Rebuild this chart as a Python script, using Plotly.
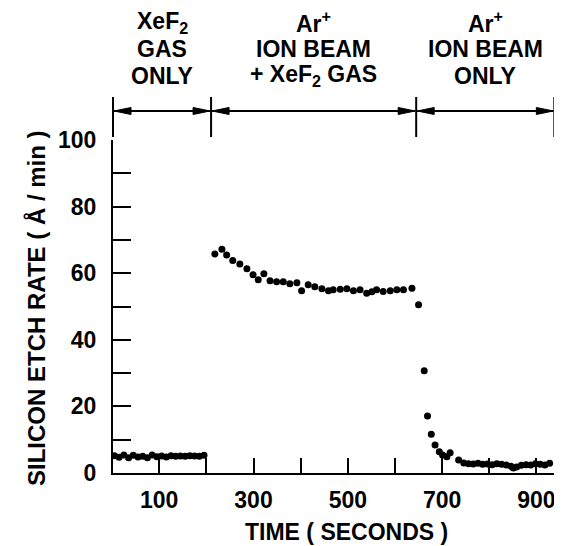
import plotly.graph_objects as go

# ---------------- data ----------------
gas_time = [5, 15, 25, 35, 45, 55, 65, 75, 85, 95, 105, 115, 125, 135, 145, 155, 165, 175, 185, 195]
gas_rate = [5.2, 4.7, 5.4, 4.6, 5.3, 4.8, 5.0, 4.6, 5.4, 4.9, 5.1, 4.8, 5.2, 5.0, 5.1, 5.0, 5.2, 5.1, 5.0, 5.3]

ion_gas_time = [218, 233, 243, 256, 271, 286, 299, 310, 322, 335, 349, 363, 377, 392, 402, 416,
                430, 445, 459, 469, 484, 498, 512, 526, 540, 551, 561, 575, 590, 604, 618, 636]
ion_gas_rate = [65.8, 67.2, 65.5, 63.8, 62.8, 61.3, 59.5, 58.0, 59.8, 57.7, 57.4, 57.4, 56.8, 57.1, 54.7, 56.5,
                55.9, 55.3, 54.7, 55.0, 55.2, 55.3, 54.7, 55.0, 54.0, 54.4, 55.0, 54.5, 54.7, 55.0, 55.0, 55.5]

ion_only_time = [650, 662, 669, 677, 685, 694, 701, 710, 717, 735, 746, 756, 766, 776, 786, 796, 806,
                 816, 826, 836, 846, 851, 858, 868, 878, 888, 898, 908, 918, 928]
ion_only_rate = [50.5, 30.7, 17.1, 11.6, 8.4, 6.4, 5.4, 4.9, 6.1, 3.9, 3.0, 2.8, 2.7, 2.9, 2.6, 2.7, 2.5,
                 2.8, 2.6, 2.4, 2.0, 1.5, 1.8, 2.3, 2.5, 2.4, 2.8, 2.6, 2.4, 2.9]

phase_bounds = [0, 210, 645, 938]
phase_labels = [["XeF<sub>2</sub>", "GAS", "ONLY"],
                ["Ar<sup>+</sup>", "ION BEAM", "+ XeF<sub>2</sub> GAS"],
                ["Ar<sup>+</sup>", "ION BEAM", "ONLY"]]

x_tick_values = [100, 200, 300, 400, 500, 600, 700, 800, 900]
x_tick_labels = ["100", "", "300", "", "500", "", "700", "", "900"]
y_tick_values = [0, 20, 40, 60, 80, 100]
y_tick_labels = ["0", "20", "40", "60", "80", "100"]
y_minor_values = [10, 30, 50, 70, 90]

x_title = "TIME ( SECONDS )"
y_title = "SILICON ETCH RATE ( Å / min )"

# ---------------- layout geometry ----------------
OFF = 8                      # page body margin
W, H = 554, 538
ML, MR, MT, MB = 105, 2, 132, 73
PW, PH = W - ML - MR, H - MT - MB
XR = [2, 950]
YR = [0, 100]

FONT = "Liberation Sans"


def t_to_px(t):
    # page pixel of a time value
    return OFF + ML + (t - XR[0]) / (XR[1] - XR[0]) * PW


def px_x(px):
    return (px - OFF - ML) / PW


def px_y(py):
    return (MT + PH - (py - OFF)) / PH


fig = go.Figure()
for xs, ys in [(gas_time, gas_rate), (ion_gas_time, ion_gas_rate), (ion_only_time, ion_only_rate)]:
    fig.add_trace(go.Scatter(x=xs, y=ys, mode="markers",
                             marker=dict(color="black", size=7),
                             showlegend=False, cliponaxis=False))

shapes = []
annotations = []
bracket_y = 111
bar_top, bar_bot = 97, 137
head_len, head_w = 17, 7
line_centers = [22, 49, 76]
bpx = [max(t_to_px(b), OFF + ML) for b in phase_bounds]
for px in bpx:
    shapes.append(dict(type="line", xref="paper", yref="paper",
                       x0=px_x(px), x1=px_x(px), y0=px_y(bar_top), y1=px_y(bar_bot),
                       line=dict(color="black", width=2)))
for i in range(len(bpx) - 1):
    a, b = bpx[i] + 1, bpx[i + 1] - 1
    shapes.append(dict(type="line", xref="paper", yref="paper",
                       x0=px_x(a), x1=px_x(b), y0=px_y(bracket_y), y1=px_y(bracket_y),
                       line=dict(color="black", width=2)))
    for tip, base in [(a, a + head_len), (b, b - head_len)]:
        path = "M {:.5f},{:.5f} L {:.5f},{:.5f} L {:.5f},{:.5f} Z".format(
            px_x(tip), px_y(bracket_y),
            px_x(base), px_y(bracket_y - head_w / 2),
            px_x(base), px_y(bracket_y + head_w / 2))
        shapes.append(dict(type="path", xref="paper", yref="paper", path=path,
                           fillcolor="black", line=dict(color="black", width=1)))
    for line_text, cy in zip(phase_labels[i], line_centers):
        annotations.append(dict(text=line_text, xref="paper", yref="paper",
                                x=px_x((bpx[i] + bpx[i + 1]) / 2), y=px_y(cy),
                                xanchor="center", yanchor="middle", showarrow=False,
                                font=dict(family=FONT, size=23, color="black", weight="bold")))

annotations.append(dict(text=y_title, xref="paper", yref="paper", textangle=-90,
                        x=px_x(36), y=px_y(308), xanchor="center", yanchor="middle",
                        showarrow=False,
                        font=dict(family=FONT, size=24, color="black", weight="bold")))
annotations.append(dict(text=x_title, xref="paper", yref="paper",
                        x=px_x(346), y=px_y(532), xanchor="center", yanchor="middle",
                        showarrow=False,
                        font=dict(family=FONT, size=23, color="black", weight="bold")))

fig.update_layout(
    width=W, height=H,
    margin=dict(l=ML, r=MR, t=MT, b=MB, pad=0),
    plot_bgcolor="white", paper_bgcolor="white",
    shapes=shapes, annotations=annotations,
    xaxis=dict(range=XR, showline=True, linecolor="black", linewidth=2,
               ticks="inside", ticklen=15, tickwidth=2, tickcolor="black",
               tickvals=x_tick_values, ticktext=x_tick_labels,
               ticklabelstandoff=5,
               tickfont=dict(family=FONT, size=23, color="black", weight="bold"),
               showgrid=False, zeroline=False),
    yaxis=dict(range=YR, showline=True, linecolor="black", linewidth=2,
               ticks="inside", ticklen=18, tickwidth=2, tickcolor="black",
               tickvals=y_tick_values, ticktext=y_tick_labels,
               ticklabelstandoff=10,
               minor=dict(ticks="inside", ticklen=18, tickwidth=2, tickcolor="black",
                          tickvals=y_minor_values, showgrid=False),
               tickfont=dict(family=FONT, size=23, color="black", weight="bold"),
               showgrid=False, zeroline=False),
)

fig.write_html("out.html")
